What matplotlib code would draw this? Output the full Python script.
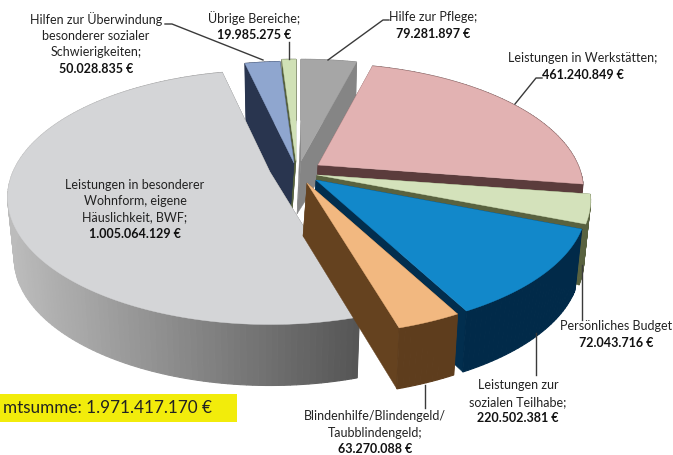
import numpy as np
import matplotlib
matplotlib.use("Agg")
import matplotlib.pyplot as plt
from matplotlib.colors import to_rgb
from matplotlib.patches import Rectangle

plt.rcParams["font.family"] = ["Lato", "DejaVu Sans"]

# clockwise from 12 o'clock, euro amounts
categories = ["Hilfe zur Pflege", "Leistungen in Werkstätten", "Persönliches Budget",
              "Leistungen zur sozialen Teilhabe", "Blindenhilfe/Blindengeld/Taubblindengeld",
              "Leistungen in besonderer Wohnform", "Hilfen zur Überwindung", "Übrige Bereiche"]
values = [79281897, 461240849, 72043716, 220502381, 63270088, 1005064129, 50028835, 19985275]
top_colors = ["#a6a6a6", "#e2b2b2", "#d4e2bb", "#1288ca", "#f2b880", "#d4d5d7", "#8fa6cf", "#d0e1b6"]
edge_colors = ["#858585", "#5b3c3c", "#59623f", "#022e4e", "#65421f", "#5f5f5f", "#29354f", "#56613f"]
rim_light = ["#858585", "#5b3c3c", "#59623f", "#02324f", "#6b4722", "#bcbcbc", "#29354f", "#56613f"]
rim_dark = ["#858585", "#5b3c3c", "#59623f", "#012a49", "#5e3d1d", "#565656", "#29354f", "#56613f"]
# where the tip of each exploded slice ends up, in pixels
tips_x = [301, 318, 317, 316, 307, 270, 294, 296]
tips_y = [161, 165, 175, 180, 183, 172, 163, 161]
widths = [265, 260, 268, 265, 265, 257, 265, 265]
draw_order = [0, 7, 6, 5, 1, 2, 3, 4]

RY, PERSP = 122, 0.2
DEPTH, SHRINK = 61, 0.975


def project(theta, tip_x, tip_y, rx, low=False):
    u, v = np.sin(theta), np.cos(theta)
    w = 1 + PERSP * v
    scale = SHRINK if low else 1
    return tip_x + scale * rx * u / w, tip_y - RY * v / w + (DEPTH if low else 0)


def mix(a, b, t):
    a, b = np.array(to_rgb(a)), np.array(to_rgb(b))
    return tuple(a + (b - a) * t)


fig = plt.figure(figsize=(6.73, 4.55), dpi=100)
ax = fig.add_axes([0, 0, 1, 1])
ax.set_xlim(0, 673)
ax.set_ylim(455, 0)
ax.axis("off")

edges = np.cumsum([0] + values) / sum(values) * 2 * np.pi

for i in draw_order:
    a0, a1 = edges[i], edges[i + 1]
    tx, ty, rx = tips_x[i], tips_y[i], widths[i]
    tbx, tby = tx - 4, ty + 53
    # radial walls
    for a in (a0, a1):
        x0, y0 = project(a, tx, ty, rx)
        x1, y1 = project(a, tx, ty, rx, low=True)
        ax.fill([tx, x0, x1, tbx], [ty, y0, y1, tby], color=edge_colors[i], lw=0.3)
    # outer wall in small strips so the big slice can shade across
    steps = max(int((a1 - a0) / 0.02), 2)
    th = np.linspace(a0, a1, steps + 1)
    for k in range(steps):
        x0, y0 = project(th[k:k + 2], tx, ty, rx)
        x1, y1 = project(th[k:k + 2], tx, ty, rx, low=True)
        t = np.clip((x0[0] - 10) / 350, 0, 1)
        c = mix(rim_light[i], rim_dark[i], t)
        ax.fill(np.r_[x0, x1[::-1]], np.r_[y0, y1[::-1]], facecolor=c, edgecolor=c, lw=0.8)
    # top face
    x, y = project(np.linspace(a0, a1, 200), tx, ty, rx)
    ax.fill(np.r_[tx, x], np.r_[ty, y], color=top_colors[i], lw=0.3)

line_kw = dict(color="#3a3a3a", lw=1.0)
ax.plot([165, 172, 263], [24, 24, 60], **line_kw)
ax.plot([289, 289], [42, 59], **line_kw)
ax.plot([389, 383, 328], [20, 20, 60], **line_kw)
ax.plot([542, 536, 515], [78, 78, 104], **line_kw)
ax.plot([582, 582], [265, 320], **line_kw)
ax.plot([536, 536], [333, 375], **line_kw)
ax.plot([425, 425], [385, 408], **line_kw)


def label(x, y, lines, amount, step=16.7):
    for n, line in enumerate(lines):
        ax.text(x, y + n * step, line, ha="center", va="center", fontsize=9.0, color="#222222")
    ax.text(x, y + len(lines) * step, amount, ha="center", va="center", fontsize=9.0,
            fontweight="bold", color="#111111")


label(96, 19, ["Hilfen zur Überwindung", "besonderer sozialer", "Schwierigkeiten;"], "50.028.835 €")
label(254, 18, ["Übrige Bereiche;"], "19.985.275 €")
label(433, 17, ["Hilfe zur Pflege;"], "79.281.897 €")
label(583, 58, ["Leistungen in Werkstätten;"], "461.240.849 €")
label(616, 326, ["Persönliches Budget"], "72.043.716 €")
label(518, 385, ["Leistungen zur", "sozialen Teilhabe;"], "220.502.381 €")
label(375, 416, ["Blindenhilfe/Blindengeld/", "Taubblindengeld;"], "63.270.088 €")
label(135, 185, ["Leistungen in besonderer", "Wohnform, eigene", "Häuslichkeit, BWF;"], "1.005.064.129 €", step=16.3)

ax.add_patch(Rectangle((0, 394), 237, 28, color="#f2ec0b", lw=0))
ax.text(212, 408, "mtsumme: 1.971.417.170 €", ha="right", va="center", fontsize=12.3, color="#222222")

fig.savefig("out.png", dpi=100)
